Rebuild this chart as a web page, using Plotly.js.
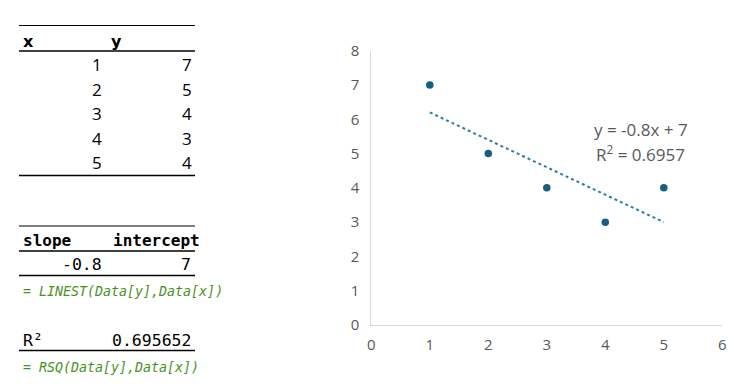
<!DOCTYPE html>
<html>
<head>
<meta charset="utf-8">
<script src="https://cdn.plot.ly/plotly-3.0.1.min.js"></script>
<style>html,body{margin:0;padding:0;background:#fff;}#chart{width:753px;height:392px;}</style>
</head>
<body>
<div id="chart"></div>
<script>
// ---- data ----
const xVals = [1, 2, 3, 4, 5];
const yVals = [7, 5, 4, 3, 4];
const xTicks = [0, 1, 2, 3, 4, 5, 6];
const yTicks = [0, 1, 2, 3, 4, 5, 6, 7, 8];
const slopeText = "-0.8";
const interceptText = "7";
const rsqText = "0.695652";
const equationText = "y = -0.8x + 7";
const rsqLabel = "0.6957";
const linestFormula = "= LINEST(Data[y],Data[x])";
const rsqFormula = "= RSQ(Data[y],Data[x])";

// ---- least squares trendline from the data ----
const n = xVals.length;
const mx = xVals.reduce((a, b) => a + b, 0) / n;
const my = yVals.reduce((a, b) => a + b, 0) / n;
let sxy = 0, sxx = 0;
for (let i = 0; i < n; i++) { sxy += (xVals[i] - mx) * (yVals[i] - my); sxx += (xVals[i] - mx) ** 2; }
const slope = sxy / sxx;
const intercept = my - slope * mx;
const xMin = Math.min(...xVals), xMax = Math.max(...xVals);
const trendX = [xMin, xMax];
const trendY = trendX.map(v => intercept + slope * v);

const W = 753, H = 392;
const px = v => v / W;
const py = v => 1 - v / H;

const mono = "DejaVu Sans Mono, Liberation Mono, monospace";
const sans = "Open Sans, Noto Sans, sans-serif";
const gray = "#595959";
const green = "#4a9224";

const annotations = [];
const shapes = [];
function txt(x, y, text, opts) {
  annotations.push(Object.assign({
    xref: "paper", yref: "paper", x: px(x), y: py(y), text: text,
    showarrow: false, xanchor: "left", yanchor: "middle",
    font: { family: mono, size: 16, color: "#000" }
  }, opts || {}));
}
function hline(x0, x1, y, w) {
  shapes.push({ type: "line", xref: "paper", yref: "paper", x0: px(x0), x1: px(x1), y0: py(y), y1: py(y),
    line: { color: "#000", width: w || 1.3 } });
}

// top table
hline(19, 195, 25.5, 1.2);
txt(21, 42, "<b>x</b>", { font: { family: "DejaVu Sans, sans-serif", size: 16, color: "#000" } });
txt(109, 42, "<b>y</b>", { font: { family: "DejaVu Sans, sans-serif", size: 16, color: "#000" } });
hline(19, 195, 51, 1.3);
const rowY = [64.5, 89, 113.5, 138, 162.5];
for (let i = 0; i < n; i++) {
  txt(104, rowY[i], String(xVals[i]), { xanchor: "right", font: { family: sans, size: 17, color: "#000" } });
  txt(194, rowY[i], String(yVals[i]), { xanchor: "right", font: { family: sans, size: 17, color: "#000" } });
}
hline(19, 195, 175.5, 1.3);

// slope / intercept table
hline(19, 195, 226, 1.2);
txt(21, 240, "<b>slope</b>", { font: { family: mono, size: 16, color: "#000" } });
txt(111, 240, "<b>intercept</b>", { font: { family: mono, size: 16, color: "#000" } });
hline(19, 195, 251, 1.3);
txt(104, 264, slopeText, { xanchor: "right", font: { family: mono, size: 16.5, color: "#000" } });
txt(193, 264, interceptText, { xanchor: "right", font: { family: mono, size: 16.5, color: "#000" } });
hline(19, 195, 275.5, 1.3);
txt(21, 291, "<i>" + linestFormula + "</i>", { font: { family: mono, size: 13.3, color: green } });

// R² table
txt(21, 340, "R²", { font: { family: mono, size: 16.5, color: "#000" } });
txt(193, 340, rsqText, { xanchor: "right", font: { family: mono, size: 16.5, color: "#000" } });
hline(19, 195, 350.5, 1.3);
txt(21, 367, "<i>" + rsqFormula + "</i>", { font: { family: mono, size: 13.3, color: green } });

// equation label
txt(592, 129, equationText, { font: { family: sans, size: 17, color: gray } });
txt(594, 154, "R<sup>2</sup> = " + rsqLabel, { font: { family: sans, size: 17, color: gray } });

const traces = [
  { x: trendX, y: trendY, type: "scatter", mode: "lines", hoverinfo: "skip",
    line: { color: "#2f7ca6", width: 2, dash: "dot" } },
  { x: xVals, y: yVals, type: "scatter", mode: "markers",
    marker: { color: "#175e83", size: 7.5 } }
];

const layout = {
  width: W, height: H,
  margin: { l: 0, r: 0, t: 0, b: 0 },
  paper_bgcolor: "#fff", plot_bgcolor: "#fff",
  showlegend: false,
  xaxis: {
    domain: [371.3 / W, 722.3 / W], range: [0, 6], tickvals: xTicks,
    showgrid: false, zeroline: false, showline: true, linecolor: "#d9d9d9", linewidth: 1,
    ticks: "outside", ticklen: 6, tickcolor: "rgba(0,0,0,0)",
    tickfont: { family: sans, size: 15, color: gray }, fixedrange: true
  },
  yaxis: {
    domain: [(H - 325) / H, (H - 50.7) / H], range: [0, 8], tickvals: yTicks,
    showgrid: false, zeroline: false, showline: true, linecolor: "#d9d9d9", linewidth: 1,
    ticks: "outside", ticklen: 8, tickcolor: "rgba(0,0,0,0)",
    tickfont: { family: sans, size: 15, color: gray }, fixedrange: true
  },
  annotations: annotations,
  shapes: shapes
};

Plotly.newPlot("chart", traces, layout, { displayModeBar: false, staticPlot: true });
</script>
</body>
</html>
